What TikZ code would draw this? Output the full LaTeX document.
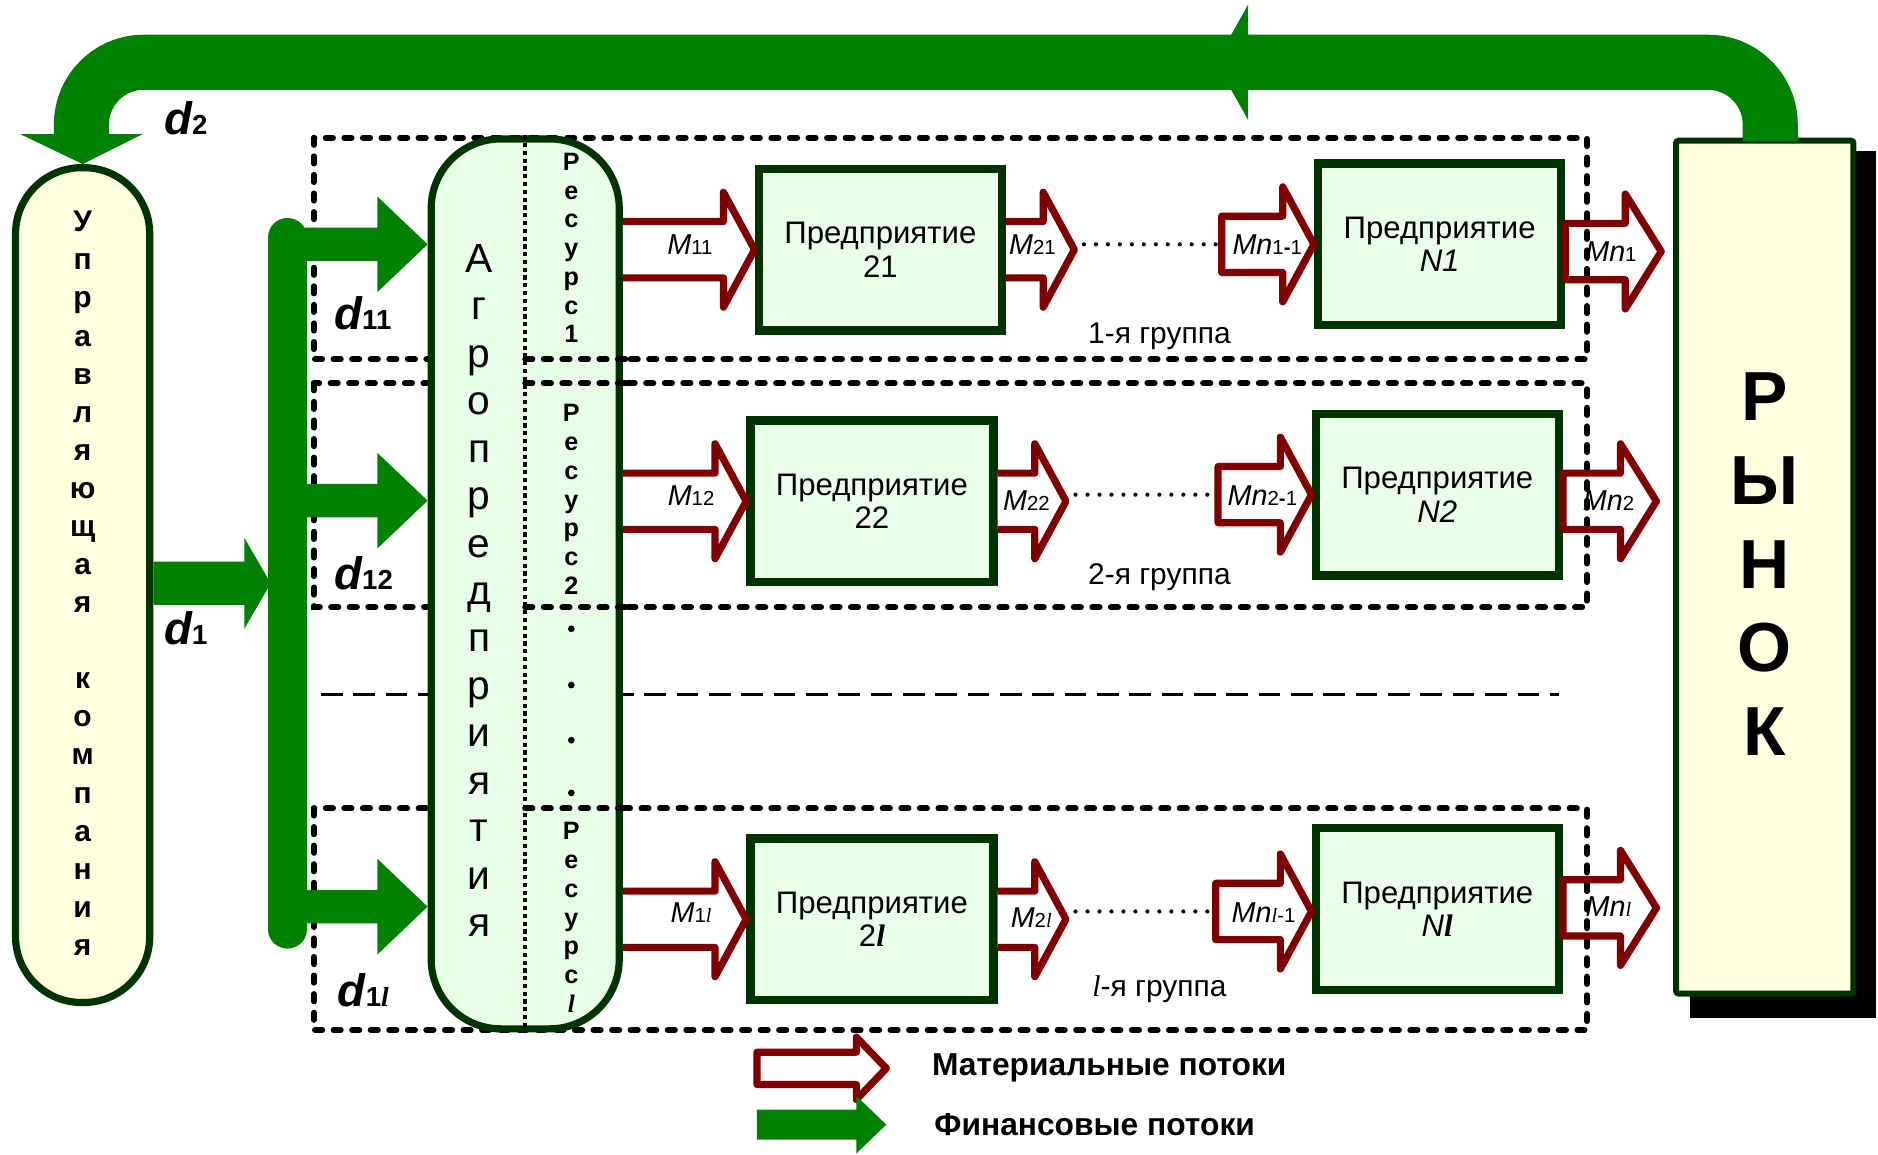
\documentclass[tikz,border=0pt]{standalone}
\usepackage{fontspec}
\setmainfont{Liberation Sans}
\newfontfamily\serf{Liberation Serif}
\usetikzlibrary{calc}
\definecolor{fgreen}{RGB}{0,128,0}
\definecolor{dred}{RGB}{128,0,0}
\definecolor{bgreen}{RGB}{0,51,0}
\definecolor{lgreen}{RGB}{230,255,230}
\definecolor{egreen}{RGB}{234,255,234}
\definecolor{lyellow}{RGB}{255,255,224}
\newcommand\fs[1]{\fontsize{#1}{#1}\selectfont}
\newcommand\litl{{\serf\itshape l}}
\newcommand\dlab[1]{{\fs{38}\bfseries\itshape d}{\fs{23}\bfseries #1}}
\newcommand\mlab[2]{{\fs{24}\itshape #1}{\fs{17}#2}}
\newcommand\arrpath[5]{let \p1=#1, \p2=#2 in (\x1,\y2+#3) -- (\x2-#5,\y2+#3) -- (\x2-#5,\y2+#4) -- (\x2,\y2) -- (\x2-#5,\y2-#4) -- (\x2-#5,\y2-#3) -- (\x1,\y2-#3)}
\newcommand\matarrC[5]{\draw[mat] \arrpath{#1}{#2}{#3}{#4}{#5} -- cycle;}
\newcommand\matarrO[5]{\fill[white] \arrpath{#1}{#2}{#3}{#4}{#5} -- cycle;
  \draw[mat] \arrpath{#1}{#2}{#3}{#4}{#5};}
\newcommand\finarr[5]{\fill[fgreen] \arrpath{#1}{#2}{#3}{#4}{#5} -- cycle;}
\begin{document}
\begin{tikzpicture}[x=1pt,y=-1pt,
  grp/.style={draw=black,line width=5pt,dash pattern=on 6pt off 9.5pt,line cap=round},
  ent/.style={draw=bgreen,line width=7pt,fill=egreen,minimum width=203pt,minimum height=135pt,inner sep=0pt,align=center,font=\fontsize{26}{28}\selectfont},
  mat/.style={draw=dred,line width=6pt,line join=round},
  dotline/.style={line width=3.5pt,dash pattern=on 0pt off 10pt,line cap=round},
  vtext/.style={align=center,inner sep=0pt},
  lab/.style={inner sep=0pt}]
\useasboundingbox (0,0) rectangle (1568,964);
\fill[white] (0,0) rectangle (1568,964);
% groups
\draw[grp] (262,115) rectangle (1325,300);
\draw[grp] (262,320) rectangle (1325,507);
\draw[grp] (262,675) rectangle (1325,860);
\draw[line width=2pt,dash pattern=on 18pt off 9pt] (268,580) -- (1302,580);
% market
\fill[black] (1411,126) rectangle (1566,850);
\node[draw=bgreen,line width=5pt,fill=lyellow,minimum width=148pt,minimum height=712pt,inner sep=0pt,rounded corners=2pt] (mkt) at (1473.5,473.5) {};
% company
\node[draw=bgreen,line width=6pt,fill=lyellow,minimum width=112pt,minimum height=697pt,rounded corners=55pt,inner sep=0pt] (comp) at (69,488.5) {};
% top band
\coordinate (b1) at (1478,118);
\coordinate (b2) at (68,113);
\draw[fgreen,line width=46pt,rounded corners=52pt] (b1) -- (b1 |- 0,52) -- (b2 |- 0,52) -- (b2);
\fill[fgreen] (17,112) -- (119,112) -- (comp.north) -- cycle;
\fill[fgreen] (1015,52) -- (1042,4) -- (1042,100) -- cycle;
% agro
\node[draw=bgreen,line width=6pt,fill=lgreen,minimum width=157pt,minimum height=743pt,rounded corners=58pt,inner sep=0pt] (agro) at (438.5,487.5) {};
% bus
\coordinate (busT) at (240,198);
\coordinate (busB) at (240,776);
\draw[fgreen,line width=32pt,line cap=round] (busT) -- (busB);
\finarr{(comp.east)}{(226,487)}{18pt}{38pt}{22pt}
\finarr{(240,204)}{(agro.west |- 0,204)}{14pt}{40pt}{42pt}
\finarr{(240,418)}{(agro.west |- 0,418)}{14pt}{40pt}{42pt}
\finarr{(240,757)}{(agro.west |- 0,757)}{14pt}{40pt}{42pt}
% agro inner
\draw[line width=3.5pt,dash pattern=on 3.5pt off 3pt] (agro.north) -- (agro.south);
\foreach \yy in {300,320,507,675} \draw[grp] (438.5,\yy) -- (524,\yy);
\foreach \yy in {525,572,618,662} \fill (477,\yy) circle (2.8);
% enterprises
\node[ent] (e21) at (735,208.5) {Предприятие\\21};
\node[ent] (eN1) at (1202,204) {Предприятие\\{\itshape N1}};
\node[ent] (e22) at (728,418.5) {Предприятие\\22};
\node[ent] (eN2) at (1200,413) {Предприятие\\{\itshape N2}};
\node[ent] (e2l) at (728,767.5) {Предприятие\\2{\bfseries\litl}};
\node[ent] (eNl) at (1200,759) {Предприятие\\{\itshape N}{\bfseries\litl}};
% material arrows row 1
\coordinate (t21) at (897,208.5);
\coordinate (s1) at (1020,204);
\coordinate (m1) at (1387,210);
\matarrO{(agro.east |- e21.west)}{(e21.west)}{23.5pt}{48pt}{26pt}
\matarrO{(e21.east)}{(t21)}{23.5pt}{48pt}{26pt}
\matarrC{(s1)}{(eN1.west)}{23.5pt}{48pt}{26pt}
\matarrC{(eN1.east |- m1)}{(m1)}{23.5pt}{48pt}{30pt}
\draw[dotline] ($(t21 |- s1)+(8,0)$) -- (s1);
% row 2
\coordinate (t22) at (890,418.5);
\coordinate (s2) at (1017,413);
\coordinate (m2) at (1383,418.5);
\matarrO{(agro.east |- e22.west)}{(e22.west)}{23.5pt}{48pt}{26pt}
\matarrO{(e22.east)}{(t22)}{23.5pt}{48pt}{26pt}
\matarrC{(s2)}{(eN2.west)}{23.5pt}{48pt}{26pt}
\matarrC{(eN2.east |- m2)}{(m2)}{23.5pt}{48pt}{30pt}
\draw[dotline] ($(t22 |- s2)+(8,0)$) -- (s2);
% row l
\coordinate (t2l) at (890,767.5);
\coordinate (sl) at (1015,761);
\coordinate (ml) at (1383,758);
\matarrO{(agro.east |- e2l.west)}{(e2l.west)}{23.5pt}{48pt}{26pt}
\matarrO{(e2l.east)}{(t2l)}{23.5pt}{48pt}{26pt}
\matarrC{(sl)}{(eNl.west |- sl)}{23.5pt}{48pt}{26pt}
\matarrC{(eNl.east |- ml)}{(ml)}{23.5pt}{48pt}{30pt}
\draw[dotline] ($(t2l |- sl)+(8,0)$) -- (sl);
% arrow labels
\node[lab] (lm11) at (576,204) {\mlab{M}{11}};
\node[lab] (lm21) at (862,204) {\mlab{M}{21}};
\node[lab] (lmn11) at (1058,204) {\mlab{Mn}{1\textbf{-}1}};
\node[lab] (lmn1) at (1345,210) {\mlab{Mn}{1}};
\node[lab] (lm12) at (577,414) {\mlab{M}{12}};
\node[lab] (lm22) at (857,418) {\mlab{M}{22}};
\node[lab] (lmn21) at (1054,414) {\mlab{Mn}{2\textbf{-}1}};
\node[lab] (lmn2) at (1343,418) {\mlab{Mn}{2}};
\node[lab] (lm1l) at (577,762) {\mlab{M}{1\litl}};
\node[lab] (lm2l) at (861,766) {\mlab{M}{2\litl}};
\node[lab] (lmnl1) at (1055,762) {\mlab{Mn}{\litl-1}};
\node[lab] (lmnl) at (1343,757) {\mlab{Mn}{\litl}};
% d labels
\node[lab,anchor=base west] (d2) at (137,112) {\dlab{2}};
\node[lab,anchor=base west] (d1) at (137,538) {\dlab{1}};
\node[lab,anchor=base west] (d11) at (279,275) {\dlab{11}};
\node[lab,anchor=base west] (d12) at (279,492) {\dlab{12}};
\node[lab,anchor=base west] (d1l) at (282,840) {\dlab{1\litl}};
% group labels
\node[lab,anchor=base] (g1) at (968,287) {\fs{25}1-я группа};
\node[lab,anchor=base] (g2) at (968,488) {\fs{25}2-я группа};
\node[lab,anchor=base] (gl) at (968,832) {\fs{25}\litl-я группа};
% vertical texts
\node[vtext,font=\fontsize{25}{31.8}\selectfont\bfseries] (tcomp) at (69,487) {У\\п\\р\\а\\в\\л\\я\\ю\\щ\\а\\я\\\mbox{}\\к\\о\\м\\п\\а\\н\\и\\я};
\node[vtext,font=\fontsize{34}{39.6}\selectfont] (tagro) at (400,493) {А\\г\\р\\о\\п\\р\\е\\д\\п\\р\\и\\я\\т\\и\\я};
\node[vtext,font=\fontsize{21}{24}\selectfont\bfseries] (r1) at (477,207) {Р\\е\\с\\у\\р\\с\\1};
\node[vtext,font=\fontsize{21}{24}\selectfont\bfseries] (r2) at (477,417) {Р\\е\\с\\у\\р\\с\\2};
\node[vtext,font=\fontsize{21}{24}\selectfont\bfseries] (rl) at (477,766) {Р\\е\\с\\у\\р\\с\\\litl};
\node[vtext,font=\fontsize{58}{70}\selectfont\bfseries] (tmkt) at (1473,471) {Р\\Ы\\Н\\О\\К};
% legend
\coordinate (lg1) at (632,892);
\coordinate (lg2) at (740,892);
\coordinate (lg3) at (632,939);
\coordinate (lg4) at (740,939);
\matarrC{(lg1)}{(lg2)}{13.5pt}{26pt}{25pt}
\finarr{(lg3)}{(lg4)}{12.5pt}{24pt}{25pt}
\node[lab,anchor=west] (leg1) at (778,892) {\fs{26.5}\bfseries Материальные потоки};
\node[lab,anchor=west] (leg2) at (780,939) {\fs{26.5}\bfseries Финансовые потоки};
\end{tikzpicture}
\end{document}
